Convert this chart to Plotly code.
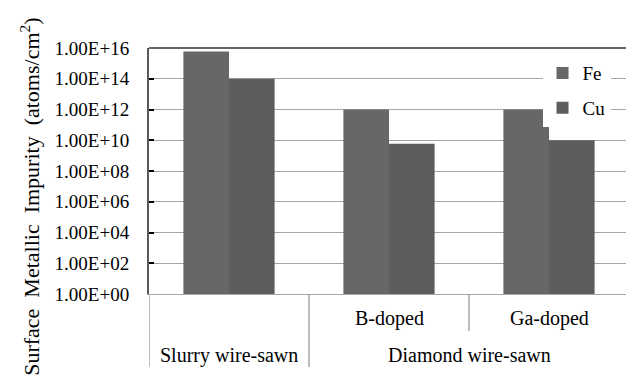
import plotly.graph_objects as go

# ---- data ----
categories = ["Slurry wire-sawn", "B-doped", "Ga-doped"]
inner_labels = ["", "B-doped", "Ga-doped"]
outer_labels = ["Slurry wire-sawn", "Diamond wire-sawn"]
outer_centers = [0, 1.5]
fe_values = [6.0e15, 1.0e12, 1.0e12]
cu_values = [1.0e14, 6.0e9, 1.0e10]
tick_values = [1e0, 1e2, 1e4, 1e6, 1e8, 1e10, 1e12, 1e14, 1e16]
tick_labels = ["1.00E+00", "1.00E+02", "1.00E+04", "1.00E+06", "1.00E+08",
               "1.00E+10", "1.00E+12", "1.00E+14", "1.00E+16"]
divider_positions = [-0.5, 0.5, 1.5, 2.5]
divider_depths = [-0.297, -0.297, -0.15, -0.297]

FONT = "Liberation Serif"
x_pos = list(range(len(categories)))

fig = go.Figure()
fig.add_trace(go.Bar(x=x_pos, y=fe_values, name="Fe", marker_color="#676767",
                     marker_line_width=0, legendgroup="fe"))
fig.add_trace(go.Bar(x=x_pos, y=cu_values, name="Cu", marker_color="#5d5d5d",
                     marker_line_width=0, legendgroup="cu"))

fig.update_layout(
    width=626, height=385,
    margin=dict(l=149, r=0, t=48, b=91, autoexpand=False),
    paper_bgcolor="white", plot_bgcolor="white",
    barmode="group", bargap=0.43, bargroupgap=0,
    font=dict(family=FONT, size=18, color="black"),
    showlegend=True,
    legend=dict(x=0.825, xanchor="left", y=0.975, yanchor="top",
                bgcolor="white", borderwidth=0,
                font=dict(family=FONT, size=19, color="black"),
                traceorder="grouped", tracegroupgap=7,
                itemwidth=30),
)

fig.update_xaxes(
    range=[-0.5, -0.5 + 477 / 160], showticklabels=False, ticks="",
    showgrid=False, zeroline=False, automargin=False,
    showline=True, linecolor="#a6a6a6", linewidth=1,
)
fig.update_yaxes(
    type="log", range=[0, 16], automargin=False,
    tickvals=tick_values, ticktext=tick_labels,
    ticks="inside", ticklen=5, tickwidth=1.5, tickcolor="black",
    ticklabelstandoff=14,
    showgrid=True, gridcolor="#a6a6a6", gridwidth=1,
    showline=True, linecolor="#595959", linewidth=2,
    zeroline=False, tickfont=dict(family=FONT, size=19, color="black"),
)

# top frame line
fig.add_shape(type="line", xref="paper", yref="paper", x0=0, x1=1, y0=1, y1=1,
              line=dict(color="#333333", width=1.5))

# category dividers below the axis
for xp, d in zip(divider_positions, divider_depths):
    fig.add_shape(type="line", xref="x", yref="paper", x0=xp, x1=xp, y0=0, y1=d,
                  line=dict(color="#a6a6a6", width=1.5))

for xp, lab in zip(x_pos, inner_labels):
    if lab:
        fig.add_annotation(x=xp, y=-0.0976, xref="x", yref="paper", text=lab,
                           showarrow=False, yanchor="middle",
                           font=dict(family=FONT, size=20, color="black"))
for xp, lab in zip(outer_centers, outer_labels):
    fig.add_annotation(x=xp, y=-0.248, xref="x", yref="paper", text=lab,
                       showarrow=False, yanchor="middle",
                       font=dict(family=FONT, size=20, color="black"))

fig.add_annotation(x=(30 - 149) / 477, y=0.395, xref="paper", yref="paper",
                   text="Surface  Metallic  Impurity  (atoms/cm<sup>2</sup>)",
                   textangle=-90, showarrow=False, xanchor="center", yanchor="middle",
                   font=dict(family=FONT, size=22, color="black"))

fig.write_html("out.html", config={"displayModeBar": False},
               post_script="document.body.style.margin='0';document.body.style.padding='0';")
